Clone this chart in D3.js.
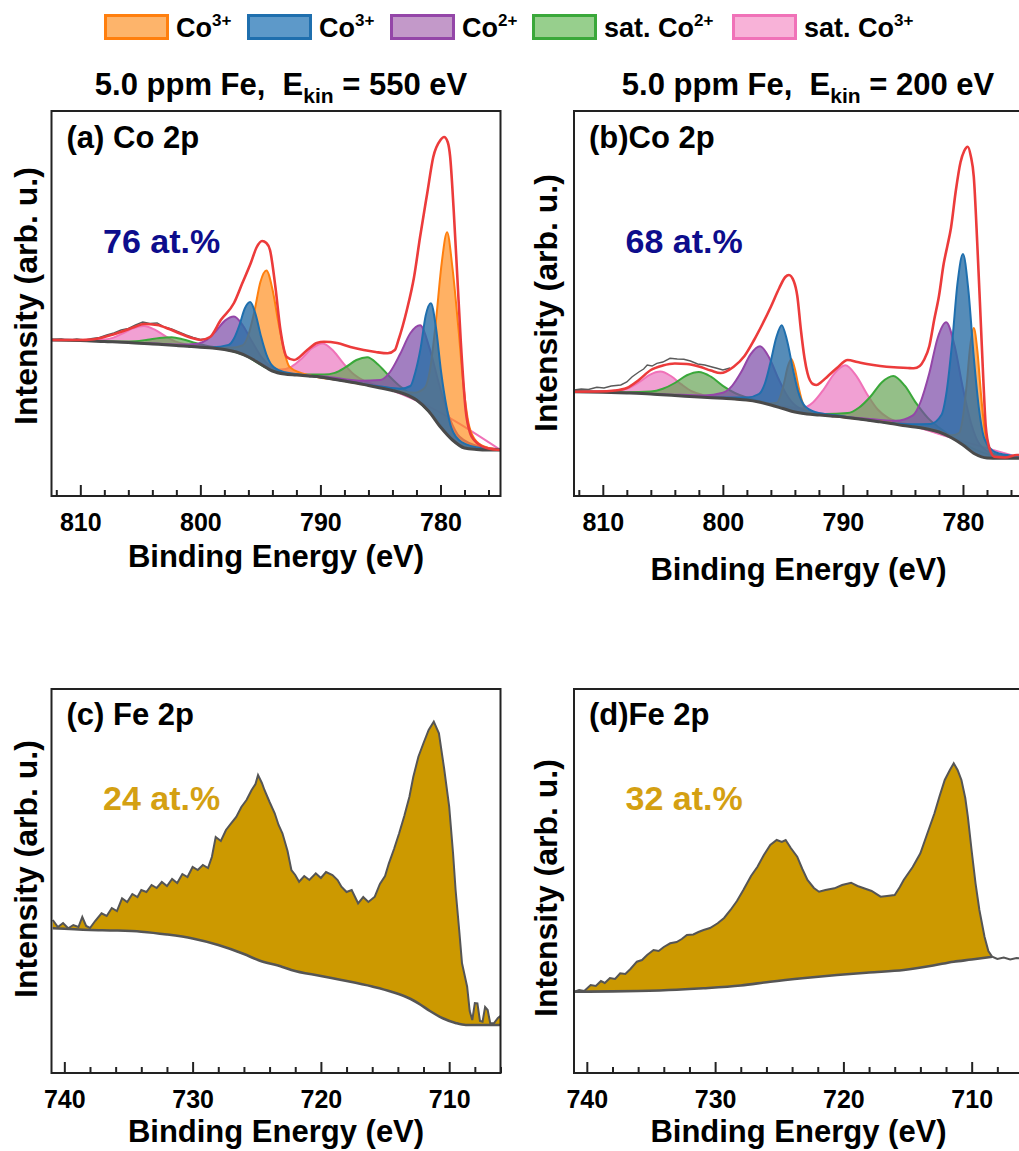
<!DOCTYPE html>
<html>
<head>
<meta charset="utf-8">
<script src="https://cdn.jsdelivr.net/npm/d3@7"></script>
<style>
  html, body { margin: 0; padding: 0; background: #fff; }
  svg { display: block; font-family: "Liberation Sans", Arial, sans-serif; font-weight: bold; }
</style>
</head>
<body>
<svg id="fig" width="1019" height="1151"></svg>
<script>
// ---------- Co 2p, E_kin = 550 eV : [binding energy (eV), intensity] ----------
const bgA = [[812.4,156],[811,155.8],[810,155.5],[808,154.5],[806,153.5],[804,152],[802,150.5],[800,148.7],[799,148],[798,146.5],[797,144],[796,139],[795,132],[794,125],[793,122],[792,121],[791,120],[790,119],[789,117],[788,115],[787,113],[786,110.5],[785,108],[784,105.5],[783,102],[782,96],[781,85],[780,69],[779,56],[778,48],[777,46.5],[776,46],[775,46]];
const fitA = [[812.4,156],[810,156],[809,156.5],[808.3,158],[807.4,161],[806.4,165],[805.5,169],[804.7,172],[803.6,171],[802.6,167],[801.7,162.5],[800.7,158],[800,156],[799.2,159],[798.3,176],[797.2,193],[796.5,213],[795.8,233],[795.3,249],[794.86,255],[794.5,253],[794.2,246],[793.75,209],[793.33,166],[792.8,139],[792.2,136],[791.1,146],[790.3,153],[789.7,154.3],[788.6,153],[787.5,149],[786.4,146],[785.4,144],[784.4,142.7],[783.8,146],[783.5,156],[782.8,186],[782.2,219],[781.7,259],[781.1,303],[780.6,339],[780,356],[779.7,359],[779.4,354],[779.2,340],[778.9,286],[778.6,220],[778.3,153],[777.9,86],[777.5,62],[777.2,56],[776.6,50],[776,47.5],[775,46]];
const rawA = [[812.4,156],[811.6,157],[811,155.5],[810.3,157],[809.6,156],[809,157.5],[808.4,158.5],[807.8,161],[807.2,163],[806.6,166],[806,167.5],[805.4,171],[804.8,174],[804.2,172.5],[803.6,173],[803,169],[802.4,167],[801.8,164],[801.2,161],[800.6,158.5],[800,156.5],[799.4,157]];
// fitted components, height above the background
const co3OctA = [[801,0],[797.5,3],[796.5,9],[796,22],[795.5,49],[795,82],[794.5,97],[794,82],[793.5,50],[793,22],[792.6,8],[791.5,2],[788,0],[784,1],[782.2,6],[781.3,20],[780.85,45],[780.4,97],[779.9,165],[779.45,202],[779,172],[778.5,115],[778.05,58],[777.6,22],[777,8],[776,2],[775,0.5]];
const co3TetA = [[801,0],[799,0.8],[797.65,5.5],[797.2,13],[796.75,28],[796.3,47],[795.85,56],[795.4,47],[794.95,28],[794.5,13],[794.05,5.5],[793.2,2],[791.5,0.8],[788,0],[785,1.5],[783.35,4],[782.5,11],[782.1,27],[781.65,56],[781.23,93],[780.8,111],[780.37,93],[779.95,56],[779.5,27],[779.1,11],[778.25,4],[776.5,1.5],[775,0.5]];
const co2A = [[805,0],[804.2,0.5],[801.7,1.2],[800.2,3.5],[799.45,8],[798.7,17.5],[797.95,29],[797.2,35],[796.45,29],[795.7,17.5],[794.95,8],[794.2,3.5],[792.7,1.2],[790.2,0.5],[789.7,1],[786.7,3],[785,8],[784.2,18],[783.35,39],[782.5,64],[781.7,78],[780.9,64],[780.05,39],[779.2,18],[778.4,8],[776.7,3],[775,1]];
const satCo2A = [[812.4,0.2],[808.4,0.3],[806.4,0.8],[805.4,1.8],[804.4,4],[803.4,6.5],[802.4,8],[801.4,6.5],[800.4,4],[799.4,1.8],[798.4,0.8],[796.4,0.3],[794.1,0.4],[791.5,1],[789.7,3],[788.8,6.5],[787.9,14],[787,23],[786.1,28],[785.2,23],[784.3,14],[783.4,6.5],[782.5,3],[780.7,1],[778.1,0.4],[775,0.2]];
const satCo3A = [[812.4,0.3],[809.9,0.6],[808.2,1.8],[807.3,4],[806.45,9],[805.6,14.5],[804.7,17.5],[803.8,14.5],[802.95,9],[802.1,4],[801.2,1.8],[799.5,0.6],[797,0.5],[795,1.2],[793.3,3.5],[792.4,8],[791.55,17],[790.7,28],[789.8,34],[788.9,28],[788.05,17],[787.2,8],[786.3,3.5],[784.6,1.2],[781.8,0.5],[775,0]];

// ---------- Co 2p, E_kin = 200 eV ----------
const bgB = [[812.4,104.3],[810,103.8],[808,103],[806,102],[804,100.5],[802,99],[800,97.7],[799,97],[798,96],[797,94],[796,91],[795,87.5],[794,84],[793,82],[792,81],[791,80],[790,79],[789,77.5],[788,76],[787,74.3],[786,72.5],[785,70.5],[784,69],[783,67],[782,64],[781,58.5],[780,51],[779,42],[778,38],[777,37.7],[775,37.7]];
const fitB = [[812.4,104.3],[810.5,104.5],[809,105.5],[808,108],[807,116],[806,126],[805,130.5],[804,132.5],[803,132],[802,129.5],[801,125.5],[800.2,123],[799.1,129.3],[798.2,140],[797.4,156],[796.7,172],[796,189.3],[795.3,208],[794.8,219],[794.5,221],[794.1,215],[793.8,200],[793.5,166],[793.2,138],[792.95,122.7],[792.5,112],[792.2,111],[791.8,114],[791.3,119.3],[790.5,128],[789.6,136],[788.8,134],[788,132],[786.9,130],[785.75,128.7],[784.6,128],[784.1,127.7],[783.6,130],[783.25,136],[782.8,150],[782.4,176],[782,200],[781.6,232.7],[781.3,250],[781,268],[780.6,305],[780.2,334],[779.9,345],[779.6,349.3],[779.35,340],[779.1,319.3],[778.8,250],[778.5,169.3],[778.3,115],[778.1,69.3],[777.8,48],[777.4,39.3],[776.5,38.5],[775.5,41],[775,41]];
const rawB = [[812.4,106],[811.8,107],[811.2,106.5],[810.5,108.7],[809.9,108],[809.3,110],[808.5,111],[808,114],[807.55,119.3],[807,124],[806.6,127],[806.3,131],[805.9,130],[805.5,132.7],[805,134],[804.4,137.7],[803.8,137],[803.25,136.7],[802.7,135],[802.1,132],[801.5,131],[800.9,129],[800.5,127.7],[800,126],[799.4,128]];
const co3OctB = [[799,0],[797,0.4],[796.1,1.2],[795.5,4],[795.2,12],[794.9,26],[794.6,43],[794.3,52],[794,43],[793.7,26],[793.4,12],[793.1,4],[792.5,1.2],[791.5,0.4],[788,0],[782,1],[780.9,3],[780.3,10],[780,28],[779.7,62],[779.4,104],[779.1,125],[778.8,104],[778.5,62],[778.2,28],[777.9,10],[777.3,3],[776.2,1],[775,0.3]];
const co3TetB = [[801,0],[799.8,1],[798,2.5],[797,8],[796.5,20],[796.05,41.5],[795.55,69],[795.1,83],[794.65,69],[794.15,41.5],[793.7,20],[793.2,8],[792.25,2.5],[790.4,1],[788,0],[784.5,2],[782.7,6],[781.8,18],[781.35,45],[780.9,96],[780.45,159],[780,191],[779.55,159],[779.1,96],[778.65,45],[778.2,18],[777.3,6],[775.5,2],[775,1.5]];
const co2B = [[806,0],[804.7,0.6],[801.55,1.8],[800,5.5],[799.23,13],[798.45,28],[797.68,46.5],[796.9,56],[796.12,46.5],[795.35,28],[794.57,13],[793.8,5.5],[792.25,1.8],[789.5,0.6],[788.4,1.2],[785.6,3.5],[784.2,11],[783.5,27],[782.8,56.5],[782.1,94],[781.4,113],[780.7,94],[780,56.5],[779.3,27],[778.6,11],[777.2,3.5],[775,1]];
const satCo2B = [[812.4,0.2],[808,0.8],[806,2.5],[805,6],[804,12.5],[803,21],[802,25],[801,21],[800,12.5],[799,6],[798,2.5],[796,0.8],[793,0.4],[791.5,1.5],[789.6,4.5],[788.65,11.5],[787.7,24],[786.75,40],[785.8,48],[784.85,40],[783.9,24],[782.95,11.5],[782,4.5],[780.1,1.5],[776.3,0.5],[775,0.3]];
const satCo3B = [[812.4,0.4],[810.4,0.8],[808.7,2.3],[807.8,5.3],[806.95,11.5],[806.1,19],[805.2,23],[804.3,19],[803.45,11.5],[802.6,5.3],[801.7,2.3],[800,0.8],[797,0.5],[795.2,1.7],[793.4,5],[792.5,12],[791.6,26],[790.7,43],[789.8,52],[788.9,43],[788,26],[787.1,12],[786.2,5],[784.4,1.7],[780.8,0.6],[775,0]];

// ---------- Fe 2p spectra and Shirley backgrounds ----------
const dataC = [[740.9,153],[740.5,146],[740.1,150],[739.7,144.7],[739.3,148],[738.9,146],[738.6,156],[738.3,147],[738,145],[737.6,152],[737.1,159.7],[736.7,157],[736.3,165],[735.9,162],[735.5,174.7],[735.1,171],[734.7,179],[734.3,176],[734,183],[733.6,181],[733.2,188],[732.8,185],[732.4,191],[732,187],[731.6,194],[731.2,190],[730.8,199],[730.4,196],[730,206],[729.6,203],[729.2,208],[728.8,205],[728.5,216],[728.2,236],[727.8,232],[727.4,243],[727,249.7],[726.6,256],[726.2,266],[725.8,273],[725.4,283],[725.1,289],[724.9,298],[724.6,290],[724.4,283],[724,271],[723.6,259.7],[723.3,248],[723,239.7],[722.6,222],[722.3,203],[722,198],[721.7,191.3],[721.3,197],[720.9,193],[720.4,199.7],[720,195],[719.6,201],[719.1,198],[718.7,193],[718.4,186.3],[718,181],[717.6,183],[717.1,169.7],[716.7,176],[716.3,171],[715.8,176.3],[715.4,189],[715,197],[714.7,209.7],[714.3,224],[713.9,239.7],[713.5,257],[713.1,276.3],[712.8,296],[712.4,316.3],[712,330],[711.6,343],[711.2,351.3],[710.8,339.7],[710.4,305],[710,266.3],[709.7,220],[709.5,183],[709.2,140],[709,109.7],[708.6,86.3],[708.4,62],[708.2,53],[708,70],[707.8,69.7],[707.6,52],[707.4,51.3],[707.2,66],[707,63],[706.8,49.7],[706.5,50],[706.2,55],[705.9,58]];
const bgC = [[740.9,144.7],[738,143],[736,142.5],[734,141.3],[732,138.5],[730,134.5],[728,128],[726,119],[724.9,113],[723,106],[722.3,103],[720,97],[718.4,93],[716,86.5],[714.5,81.3],[713,74],[712.4,69.7],[711.5,62],[710.5,54.7],[709.5,50],[708.7,48],[706.9,48],[705.9,48]];
const dataD = [[741,81.3],[740.6,83],[740.2,82],[739.7,88],[739.3,87],[738.9,92],[738.6,90],[738.2,95],[737.8,94],[737.4,99.7],[737,99],[736.6,104],[736.1,111.3],[735.7,113],[735.3,118],[734.8,123],[734.4,122],[734,126],[733.5,129.7],[733,131],[732.6,134],[732.2,138],[731.7,138.5],[731.3,141],[730.9,143],[730.4,145],[729.8,149.7],[729.3,155],[728.8,163],[728.3,172],[727.8,183],[727.2,197],[726.7,206.3],[726.2,218],[725.7,228],[725.2,233],[724.8,231],[724.5,233],[724.1,225],[723.6,216.3],[723.2,204],[722.8,193],[722.3,185],[721.9,181.3],[721.4,183],[720.7,184.7],[720.1,188],[719.4,190.3],[718.9,187],[718.4,184.7],[717.8,182],[717.1,176.3],[716.6,177],[716,178],[715.6,186],[715.3,193],[714.6,206],[714,219.7],[713.5,238],[712.9,259.7],[712.5,277],[712.1,293],[711.7,303],[711.4,309.7],[711.1,303],[710.8,293],[710.5,275],[710.3,256.3],[710,222],[709.7,189.7],[709.4,163],[709,136.3],[708.7,122],[708.4,116.3],[708,114],[707.5,115.5],[707,113.5],[706.5,115],[705.9,114]];
const bgD = [[741,81.3],[738,81.6],[736,82],[733,83.2],[730.9,84.7],[728,87.5],[725.7,91.3],[723,95],[720.5,98],[718,100.5],[715.3,103],[713,107.5],[711.4,111.3],[710,113.5],[708.4,116.3]];

// ---------- labels and ticks ----------
const legendBase = ["Co", "Co", "Co", "sat. Co", "sat. Co"];
const legendSup = ["3+", "3+", "2+", "2+", "3+"];
const kineticEnergies = [550, 200];
const coFractions = ["76 at.%", "68 at.%"];
const feFractions = ["24 at.%", "32 at.%"];
const coLabels = ["(a) Co 2p", "(b)Co 2p"];
const feLabels = ["(c) Fe 2p", "(d)Fe 2p"];
const coMajorTicks = [810, 800, 790, 780];
const coMinorTicks = [812, 808, 806, 804, 802, 798, 796, 794, 792, 788, 786, 784, 782, 778, 776];
const feMajorTicks = [740, 730, 720, 710];
const feMinorTicks = [738, 736, 734, 732, 728, 726, 724, 722, 718, 716, 714, 712, 708, 706];

// component styles: Co3+ (oct), Co3+ (tet), Co2+, sat. Co2+, sat. Co3+
const compStroke = ["#ff7f0e", "#1f6fae", "#9446a8", "#3aa83a", "#f072b8"];
const compFill   = ["#ff8c1a", "#2c6fa6", "#7a48a6", "#62a050", "#ec7cc2"];
const compAlpha  = [0.68, 0.8, 0.7, 0.68, 0.72];
const legendFill = ["#fdb46b", "#5d99c9", "#c399c9", "#97cf8d", "#f8b2d8"];
const drawOrder  = [4, 3, 2, 0, 1];

const svg = d3.select("#fig");

// ---------- legend ----------
const legendBoxX = [104, 247, 390, 532, 732];
legendBase.forEach((b, i) => {
  svg.append("rect").attr("x", legendBoxX[i] + 1.5).attr("y", 15.5)
    .attr("width", 62).attr("height", 23)
    .attr("fill", legendFill[i]).attr("stroke", compStroke[i]).attr("stroke-width", 3);
  const t = svg.append("text").attr("x", legendBoxX[i] + 72).attr("y", 37)
    .style("font-size", "27px");
  t.append("tspan").text(b);
  t.append("tspan").attr("dy", -11).style("font-size", "17px").text(legendSup[i]);
});

// ---------- column titles ----------
[281, 808].forEach((cx, i) => {
  const t = svg.append("text").attr("x", cx).attr("y", 95)
    .attr("text-anchor", "middle").style("font-size", "31px").style("white-space", "pre");
  t.append("tspan").text("5.0 ppm Fe,  E");
  t.append("tspan").attr("dy", 8).style("font-size", "21px").text("kin");
  t.append("tspan").attr("dy", -8).text(" = " + kineticEnergies[i] + " eV");
});

function frameAndAxes(g, x, left, right, top, bottom, major, minor, titleY, ylabX, ylabY) {
  const majorAxis = d3.axisBottom(x).tickValues(major).tickSize(-11).tickPadding(17).tickFormat(d3.format("d"));
  const minorAxis = d3.axisBottom(x).tickValues(minor).tickSize(-6).tickFormat("");
  const ga = g.append("g").attr("transform", `translate(0,${bottom})`).call(majorAxis);
  const gm = g.append("g").attr("transform", `translate(0,${bottom})`).call(minorAxis);
  [ga, gm].forEach(s => {
    s.select(".domain").remove();
    s.selectAll("line").attr("stroke", "#222").attr("stroke-width", 2);
  });
  ga.selectAll("text").attr("fill", "#000").style("font-size", "25px")
    .style("font-family", "'Liberation Sans', Arial, sans-serif").style("font-weight", "bold");
  g.append("rect").attr("x", left).attr("y", top).attr("width", right - left).attr("height", bottom - top)
    .attr("fill", "none").attr("stroke", "#222").attr("stroke-width", 2);
  g.append("text").attr("x", (left + right) / 2).attr("y", titleY).attr("text-anchor", "middle")
    .style("font-size", "31px").text("Binding Energy (eV)");
  g.append("text").attr("transform", `translate(${ylabX},${ylabY}) rotate(-90)`)
    .attr("text-anchor", "middle").style("font-size", "32px").text("Intensity (arb. u.)");
}

// ---------- Co 2p panels ----------
const coPanels = [
  { left: 51.5, bg: bgA, fit: fitA, raw: rawA, comps: [co3OctA, co3TetA, co2A, satCo2A, satCo3A], titleY: 567, ylabX: 37, ylabY: 296 },
  { left: 574, bg: bgB, fit: fitB, raw: rawB, comps: [co3OctB, co3TetB, co2B, satCo2B, satCo3B], titleY: 580, ylabX: 557, ylabY: 303 }
];
const coTop = 111, coBottom = 496;

coPanels.forEach((p, i) => {
  const right = p.left + 449;
  const x = d3.scaleLinear().domain([812.4, 775]).range([p.left, right]);
  const y = d3.scaleLinear().domain([0, 385]).range([coBottom, coTop]);
  const bgAt = d3.scaleLinear().domain(p.bg.map(d => d[0])).range(p.bg.map(d => d[1])).clamp(true);
  const g = svg.append("g");
  const clipId = "clipCo" + i;
  g.append("clipPath").attr("id", clipId).append("rect")
    .attr("x", p.left).attr("y", coTop).attr("width", 449).attr("height", coBottom - coTop);
  const plot = g.append("g").attr("clip-path", `url(#${clipId})`);

  const area = d3.area().x(d => x(d[0])).y0(d => y(bgAt(d[0]))).y1(d => y(bgAt(d[0]) + d[1])).curve(d3.curveMonotoneX);
  const top = d3.line().x(d => x(d[0])).y(d => y(bgAt(d[0]) + d[1])).curve(d3.curveMonotoneX);
  drawOrder.forEach(k => {
    plot.append("path").datum(p.comps[k]).attr("d", area)
      .attr("fill", compFill[k]).attr("fill-opacity", compAlpha[k]);
    plot.append("path").datum(p.comps[k]).attr("d", top)
      .attr("fill", "none").attr("stroke", compStroke[k]).attr("stroke-width", 2);
  });
  const line = d3.line().x(d => x(d[0])).y(d => y(d[1])).curve(d3.curveMonotoneX);
  plot.append("path").datum(p.bg).attr("d", line)
    .attr("fill", "none").attr("stroke", "#4a4a4a").attr("stroke-width", 3);
  plot.append("path").datum(p.raw).attr("d", d3.line().x(d => x(d[0])).y(d => y(d[1])))
    .attr("fill", "none").attr("stroke", "#5a5a5a").attr("stroke-width", 1.4);
  plot.append("path").datum(p.fit).attr("d", line)
    .attr("fill", "none").attr("stroke", "#ec3b3b").attr("stroke-width", 2.6);

  frameAndAxes(g, x, p.left, right, coTop, coBottom, coMajorTicks, coMinorTicks, p.titleY, p.ylabX, p.ylabY);
  g.append("text").attr("x", p.left + 15).attr("y", 148).style("font-size", "31px").text(coLabels[i]);
  g.append("text").attr("x", p.left + 51.5).attr("y", 253).attr("fill", "#0d0d8c")
    .style("font-size", "34px").text(coFractions[i]);
});

// ---------- Fe 2p panels ----------
const fePanels = [
  { left: 51.5, data: dataC, bg: bgC, ylabX: 37, ylabY: 869 },
  { left: 574, data: dataD, bg: bgD, ylabX: 557, ylabY: 888 }
];
const feTop = 689, feBottom = 1073;

fePanels.forEach((p, i) => {
  const right = p.left + 449;
  const x = d3.scaleLinear().domain([741, 706]).range([p.left, right]);
  const y = d3.scaleLinear().domain([0, 384]).range([feBottom, feTop]);
  const bgE = p.bg.map(d => d[0]);
  const bgAt = d3.scaleLinear().domain(bgE).range(p.bg.map(d => d[1]));
  const lo = d3.min(bgE), hi = d3.max(bgE);
  const g = svg.append("g");
  const clipId = "clipFe" + i;
  g.append("clipPath").attr("id", clipId).append("rect")
    .attr("x", p.left).attr("y", feTop).attr("width", 449).attr("height", feBottom - feTop);
  const plot = g.append("g").attr("clip-path", `url(#${clipId})`);

  const inside = p.data.filter(d => d[0] >= lo && d[0] <= hi);
  plot.append("path").datum(inside)
    .attr("d", d3.area().x(d => x(d[0])).y0(d => y(bgAt(d[0]))).y1(d => y(d[1])))
    .attr("fill", "#cc9900");
  plot.append("path").datum(p.bg)
    .attr("d", d3.line().x(d => x(d[0])).y(d => y(d[1])).curve(d3.curveMonotoneX))
    .attr("fill", "none").attr("stroke", "#555").attr("stroke-width", 2.6);
  plot.append("path").datum(p.data)
    .attr("d", d3.line().x(d => x(d[0])).y(d => y(d[1])))
    .attr("fill", "none").attr("stroke", "#555").attr("stroke-width", 2);

  frameAndAxes(g, x, p.left, right, feTop, feBottom, feMajorTicks, feMinorTicks, 1142, p.ylabX, p.ylabY);
  g.append("text").attr("x", p.left + 15).attr("y", 725).style("font-size", "31px").text(feLabels[i]);
  g.append("text").attr("x", p.left + 51.5).attr("y", 810).attr("fill", "#d4a012")
    .style("font-size", "34px").text(feFractions[i]);
});
</script>
</body>
</html>
